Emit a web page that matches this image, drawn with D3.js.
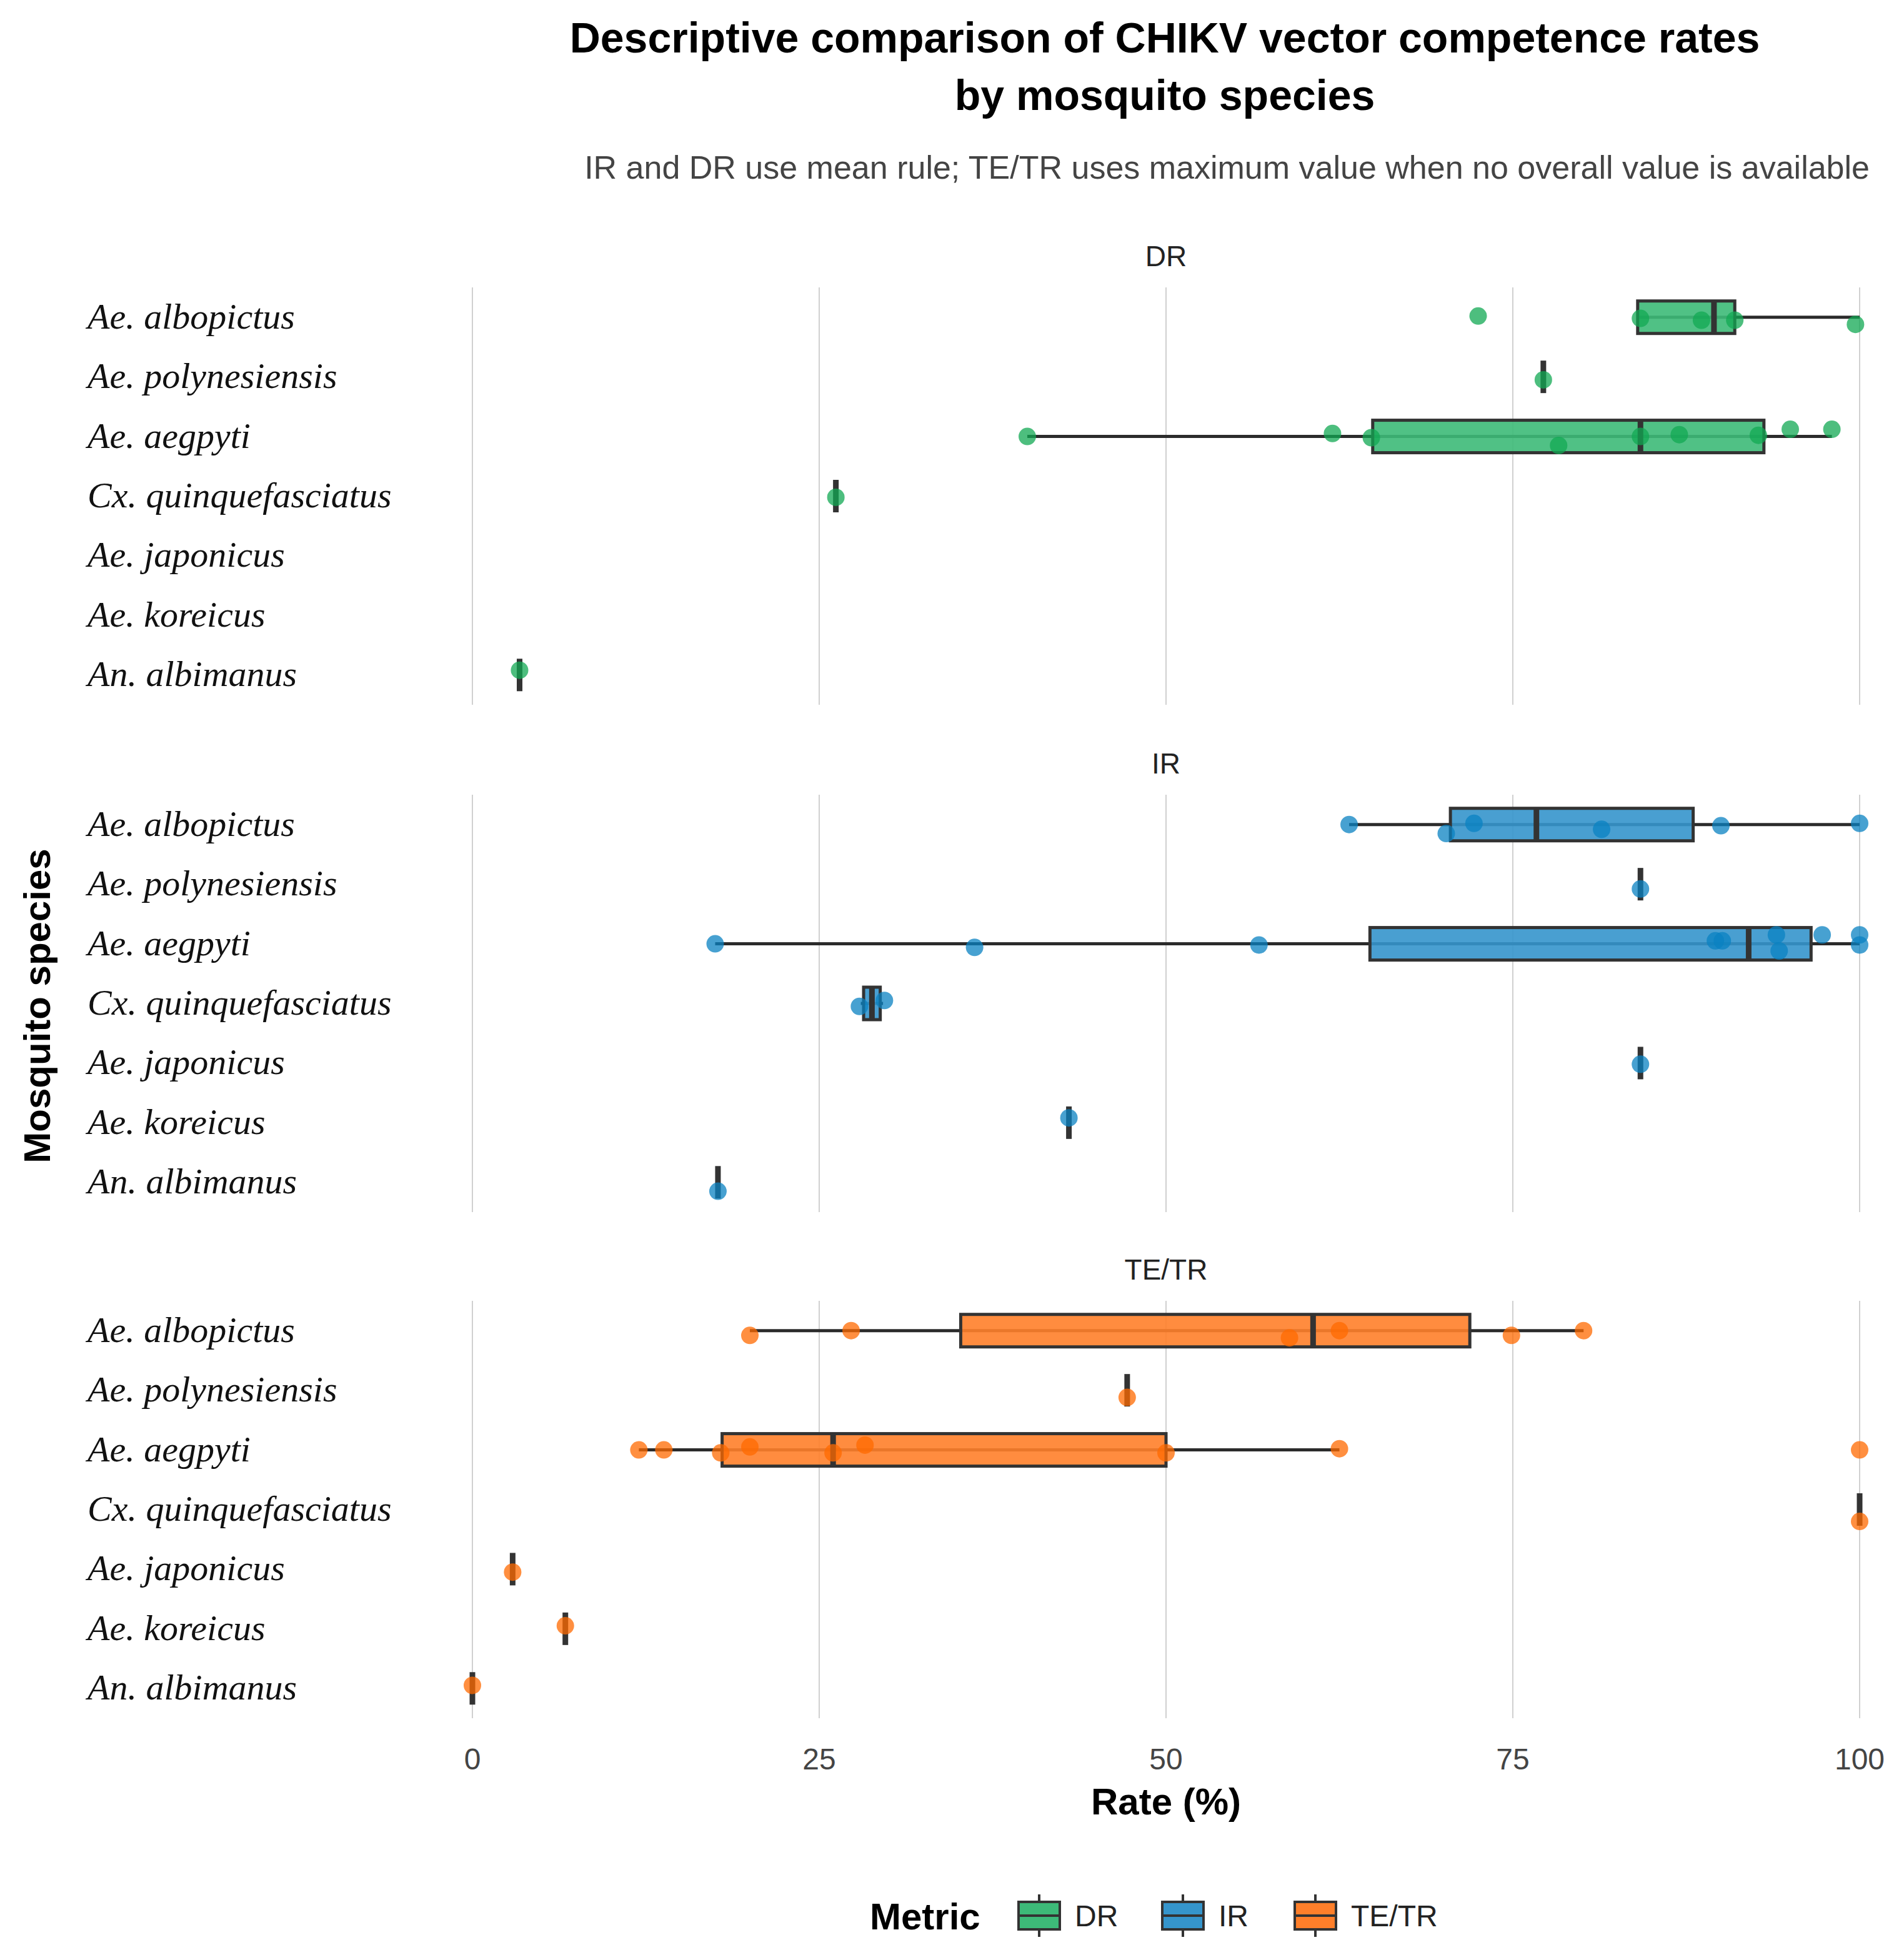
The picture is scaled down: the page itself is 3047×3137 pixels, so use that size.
<!DOCTYPE html>
<html>
<head>
<meta charset="utf-8">
<script src="https://cdn.jsdelivr.net/npm/d3@7"></script>
<style>
  body { margin: 0; background: #fff; }
  text { font-family: "Liberation Sans", Arial, sans-serif; }
  text.sp { font-family: "Liberation Serif", "Times New Roman", serif; font-style: italic; }
</style>
</head>
<body>
<svg id="chart" width="3047" height="3137"></svg>
<script>
// species order (top to bottom)
var species = ["Ae. albopictus", "Ae. polynesiensis", "Ae. aegpyti", "Cx. quinquefasciatus",
               "Ae. japonicus", "Ae. koreicus", "An. albimanus"];
var metrics = ["DR", "IR", "TE/TR"];
var xTicks = [0, 25, 50, 75, 100];

// box stats per metric: [species, lower whisker, q1, median, q3, upper whisker]
var drBoxes = [
  ["Ae. albopictus", 84.0, 84.0, 89.5, 91.0, 100],
  ["Ae. polynesiensis", 77.2, 77.2, 77.2, 77.2, 77.2],
  ["Ae. aegpyti", 40.0, 64.9, 84.2, 93.1, 98.0],
  ["Cx. quinquefasciatus", 26.2, 26.2, 26.2, 26.2, 26.2],
  ["An. albimanus", 3.4, 3.4, 3.4, 3.4, 3.4]
];
var irBoxes = [
  ["Ae. albopictus", 63.2, 70.5, 76.7, 88.0, 100],
  ["Ae. polynesiensis", 84.2, 84.2, 84.2, 84.2, 84.2],
  ["Ae. aegpyti", 17.5, 64.7, 92.0, 96.5, 100],
  ["Cx. quinquefasciatus", 28.0, 28.2, 28.8, 29.4, 29.6],
  ["Ae. japonicus", 84.2, 84.2, 84.2, 84.2, 84.2],
  ["Ae. koreicus", 43.0, 43.0, 43.0, 43.0, 43.0],
  ["An. albimanus", 17.7, 17.7, 17.7, 17.7, 17.7]
];
var teBoxes = [
  ["Ae. albopictus", 20.0, 35.2, 60.6, 71.9, 80.1],
  ["Ae. polynesiensis", 47.2, 47.2, 47.2, 47.2, 47.2],
  ["Ae. aegpyti", 12.0, 18.0, 26.0, 50.0, 62.5],
  ["Cx. quinquefasciatus", 100, 100, 100, 100, 100],
  ["Ae. japonicus", 2.9, 2.9, 2.9, 2.9, 2.9],
  ["Ae. koreicus", 6.7, 6.7, 6.7, 6.7, 6.7],
  ["An. albimanus", 0, 0, 0, 0, 0]
];

// jittered observations: [species, value, vertical jitter (fraction of row)]
var drPoints = [
  ["Ae. albopictus", 72.5, -0.02], ["Ae. albopictus", 84.2, 0.02], ["Ae. albopictus", 88.6, 0.05],
  ["Ae. albopictus", 91.0, 0.05], ["Ae. albopictus", 99.7, 0.12],
  ["Ae. polynesiensis", 77.2, 0.05],
  ["Ae. aegpyti", 40.0, 0.0], ["Ae. aegpyti", 62.0, -0.05], ["Ae. aegpyti", 64.8, 0.02],
  ["Ae. aegpyti", 78.3, 0.15], ["Ae. aegpyti", 84.2, 0.0], ["Ae. aegpyti", 87.0, -0.03],
  ["Ae. aegpyti", 92.7, -0.02], ["Ae. aegpyti", 95.0, -0.12], ["Ae. aegpyti", 98.0, -0.12],
  ["Cx. quinquefasciatus", 26.2, 0.02],
  ["An. albimanus", 3.4, -0.08]
];
var irPoints = [
  ["Ae. albopictus", 63.2, 0.0], ["Ae. albopictus", 70.2, 0.15], ["Ae. albopictus", 72.2, -0.02],
  ["Ae. albopictus", 81.4, 0.08], ["Ae. albopictus", 90.0, 0.02], ["Ae. albopictus", 100, -0.02],
  ["Ae. polynesiensis", 84.2, 0.08],
  ["Ae. aegpyti", 17.5, 0.0], ["Ae. aegpyti", 36.2, 0.06], ["Ae. aegpyti", 56.7, 0.02],
  ["Ae. aegpyti", 89.6, -0.05], ["Ae. aegpyti", 90.1, -0.05], ["Ae. aegpyti", 94.0, -0.15],
  ["Ae. aegpyti", 94.2, 0.12], ["Ae. aegpyti", 97.3, -0.15], ["Ae. aegpyti", 100, -0.15],
  ["Ae. aegpyti", 100, 0.02],
  ["Cx. quinquefasciatus", 27.9, 0.05], ["Cx. quinquefasciatus", 29.7, -0.05],
  ["Ae. japonicus", 84.2, 0.02],
  ["Ae. koreicus", 43.0, -0.08],
  ["An. albimanus", 17.7, 0.15]
];
var tePoints = [
  ["Ae. albopictus", 20.0, 0.08], ["Ae. albopictus", 27.3, 0.0], ["Ae. albopictus", 58.9, 0.12],
  ["Ae. albopictus", 62.5, 0.0], ["Ae. albopictus", 74.9, 0.08], ["Ae. albopictus", 80.1, 0.0],
  ["Ae. polynesiensis", 47.2, 0.12],
  ["Ae. aegpyti", 12.0, 0.0], ["Ae. aegpyti", 13.8, 0.0], ["Ae. aegpyti", 17.9, 0.05],
  ["Ae. aegpyti", 20.0, -0.05], ["Ae. aegpyti", 26.0, 0.05], ["Ae. aegpyti", 28.3, -0.08],
  ["Ae. aegpyti", 50.0, 0.05], ["Ae. aegpyti", 62.5, -0.02],
  ["Cx. quinquefasciatus", 100, 0.2],
  ["Ae. japonicus", 2.9, 0.05],
  ["Ae. koreicus", 6.7, -0.05],
  ["An. albimanus", 0, -0.05]
];
// outliers shown by the boxplot itself
var teOutliers = [["Ae. aegpyti", 100]];

var fills = { "DR": "#3dba78", "IR": "#3595cc", "TE/TR": "#ff7f2a" };
var pointCols = { "DR": "#12a853", "IR": "#0a82c2", "TE/TR": "#ff6a00" };

var svg = d3.select("#chart");
var x = d3.scaleLinear().domain([0, 100]).range([756, 2976]);

var panels = [
  { name: "DR", top: 460, boxes: drBoxes, points: drPoints, outliers: [] },
  { name: "IR", top: 1272, boxes: irBoxes, points: irPoints, outliers: [] },
  { name: "TE/TR", top: 2082, boxes: teBoxes, points: tePoints, outliers: teOutliers }
];
var panelH = 668;

// title
svg.append("text").attr("x", 1864).attr("y", 84).attr("text-anchor", "middle")
  .attr("font-size", 68).attr("font-weight", "bold")
  .text("Descriptive comparison of CHIKV vector competence rates");
svg.append("text").attr("x", 1864).attr("y", 176).attr("text-anchor", "middle")
  .attr("font-size", 68).attr("font-weight", "bold").text("by mosquito species");
svg.append("text").attr("x", 2992).attr("y", 286).attr("text-anchor", "end")
  .attr("font-size", 52).attr("fill", "#444")
  .text("IR and DR use mean rule; TE/TR uses maximum value when no overall value is available");

panels.forEach(function (p) {
  var g = svg.append("g");
  var y = d3.scaleBand().domain(species).range([p.top, p.top + panelH]).padding(0);
  var bw = 52;

  g.append("text").attr("x", x(50)).attr("y", p.top - 34).attr("text-anchor", "middle")
    .attr("font-size", 46).attr("fill", "#222").text(p.name);

  g.selectAll(".grid").data(xTicks).join("line")
    .attr("x1", d => x(d)).attr("x2", d => x(d))
    .attr("y1", p.top).attr("y2", p.top + panelH)
    .attr("stroke", "#d0d0d0").attr("stroke-width", 2);

  g.selectAll(".lab").data(species).join("text").attr("class", "sp")
    .attr("x", 140).attr("y", d => y(d) + y.bandwidth() / 2 + 18)
    .attr("font-size", 58).attr("fill", "#111").text(d => d);

  var b = g.selectAll(".box").data(p.boxes).join("g");
  var cy = d => y(d[0]) + y.bandwidth() / 2;
  b.append("line").attr("x1", d => x(d[1])).attr("x2", d => x(d[5]))
    .attr("y1", cy).attr("y2", cy).attr("stroke", "#2b2b2b").attr("stroke-width", 5);
  b.append("rect").attr("x", d => x(d[2])).attr("width", d => x(d[4]) - x(d[2]))
    .attr("y", d => cy(d) - bw / 2).attr("height", bw)
    .attr("fill", fills[p.name]).attr("fill-opacity", 0.9)
    .attr("stroke", "#333").attr("stroke-width", 5);
  b.append("line").attr("x1", d => x(d[3])).attr("x2", d => x(d[3]))
    .attr("y1", d => cy(d) - bw / 2).attr("y2", d => cy(d) + bw / 2)
    .attr("stroke", "#333").attr("stroke-width", 9);

  g.selectAll(".out").data(p.outliers).join("circle")
    .attr("cx", d => x(d[1])).attr("cy", d => y(d[0]) + y.bandwidth() / 2)
    .attr("r", 14).attr("fill", pointCols[p.name]).attr("opacity", 0.75);

  g.selectAll(".pt").data(p.points).join("circle")
    .attr("cx", d => x(d[1])).attr("cy", d => y(d[0]) + y.bandwidth() / 2 + d[2] * y.bandwidth())
    .attr("r", 14).attr("fill", pointCols[p.name]).attr("opacity", 0.75);
});

// x axis ticks
svg.selectAll(".xt").data(xTicks).join("text")
  .attr("x", d => x(d)).attr("y", 2832).attr("text-anchor", "middle")
  .attr("font-size", 48).attr("fill", "#444").text(d => d);
svg.append("text").attr("x", x(50)).attr("y", 2904).attr("text-anchor", "middle")
  .attr("font-size", 60).attr("font-weight", "bold").text("Rate (%)");
svg.append("text").attr("transform", "translate(80,1610) rotate(-90)")
  .attr("text-anchor", "middle").attr("font-size", 60).attr("font-weight", "bold")
  .text("Mosquito species");

// legend
var lg = svg.append("g");
lg.append("text").attr("x", 1392).attr("y", 3088).attr("font-size", 60)
  .attr("font-weight", "bold").text("Metric");
var keyX = [1628, 1858, 2070];
metrics.forEach(function (m, i) {
  var k = lg.append("g").attr("transform", "translate(" + keyX[i] + ",3066)");
  k.append("line").attr("x1", 35).attr("x2", 35).attr("y1", -34).attr("y2", 34)
    .attr("stroke", "#333").attr("stroke-width", 4);
  k.append("rect").attr("x", 2).attr("y", -22).attr("width", 66).attr("height", 44)
    .attr("fill", fills[m]).attr("stroke", "#333").attr("stroke-width", 4);
  k.append("line").attr("x1", 2).attr("x2", 68).attr("y1", 0).attr("y2", 0)
    .attr("stroke", "#333").attr("stroke-width", 4);
  k.append("text").attr("x", 92).attr("y", 17).attr("font-size", 48).attr("fill", "#222").text(m);
});
</script>
</body>
</html>
